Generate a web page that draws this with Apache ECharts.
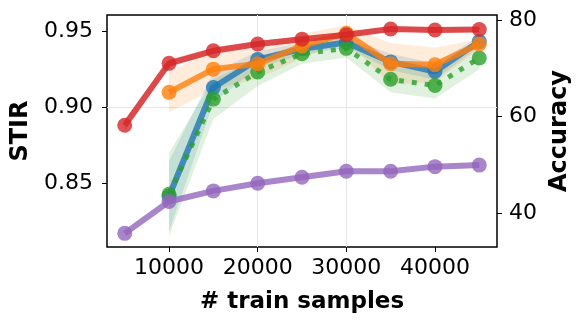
<!DOCTYPE html>
<html>
<head>
<meta charset="utf-8">
<script src="https://cdn.jsdelivr.net/npm/echarts@6/dist/echarts.min.js"></script>
<style>
    html, body { margin: 0; padding: 0; background: #fff; }
    #chart { width: 581px; height: 323px; }
</style>
</head>
<body>
<div id="chart"></div>
<script>
    // x positions
    const samples = [5000, 10000, 15000, 20000, 25000, 30000, 35000, 40000, 45000]
    const samplesFrom10k = [10000, 15000, 20000, 25000, 30000, 35000, 40000, 45000]

    // accuracy curves (right axis) and their spread
    const redAcc = [58.2, 71.0, 73.6, 75.0, 76.0, 76.9, 78.1, 77.9, 78.0]
    const redStd = [1.2, 0.8, 0.6, 0.6, 0.6, 0.6, 0.5, 0.5, 0.5]
    const orangeAcc = [65.0, 69.8, 70.9, 74.6, 77.2, 70.9, 70.7, 75.0]
    const orangeStd = [4.1, 4.2, 3.1, 2.5, 1.7, 4.3, 3.6, 1.0]
    const blueAcc = [43.5, 66.0, 71.8, 74.0, 75.3, 71.3, 69.3, 75.5]
    const blueStd = [7.3, 3.1, 1.7, 1.2, 1.0, 1.7, 1.7, 1.0]
    const greenAcc = [43.9, 63.6, 69.2, 73.0, 74.1, 67.7, 66.4, 72.1]
    const greenStd = [8.6, 4.1, 2.9, 2.1, 1.9, 2.7, 2.7, 2.3]

    // STIR curve (left axis)
    const purpleStir = [0.817, 0.838, 0.845, 0.850, 0.854, 0.858, 0.858, 0.861, 0.862]

    // tick labels
    const xTicks = [10000, 20000, 30000, 40000]
    const stirTicks = [0.85, 0.90, 0.95]
    const accTicks = [40, 60, 80]

    const pairs = (xs, ys) => xs.map((x, i) => [x, ys[i]])

    // shaded spread drawn as one polygon through the axis scales
    function band (name, xs, mean, std, color, opacity) {
        const items = xs.map((x, i) => [x, mean[i] - std[i], mean[i] + std[i]])
        return {
            name: name + '-band',
            type: 'custom',
            yAxisIndex: 1,
            encode: { x: 0, y: [1, 2] },
            data: items,
            silent: true,
            z: 1,
            renderItem (params, api) {
                if (params.dataIndex !== 0) return null
                const upper = items.map(d => api.coord([d[0], d[2]]))
                const lower = items.map(d => api.coord([d[0], d[1]])).reverse()
                return {
                    type: 'polygon',
                    shape: { points: upper.concat(lower) },
                    style: { fill: color, opacity: opacity }
                }
            }
        }
    }

    function curve (name, xs, ys, color, axis, z, dashed) {
        return {
            name: name,
            type: 'line',
            yAxisIndex: axis,
            data: pairs(xs, ys),
            symbol: 'circle',
            symbolSize: 15,
            itemStyle: { color: color, opacity: 0.8 },
            lineStyle: {
                color: color,
                width: dashed ? 5 : 6,
                opacity: 0.8,
                type: dashed ? [5, 8] : 'solid',
                cap: 'butt'
            },
            z: z
        }
    }

    const font = 'DejaVu Sans'
    const chart = echarts.init(document.getElementById('chart'))
    const option = {
        animation: false,
        grid: {
            left: 107,
            right: 84,
            top: 15,
            bottom: 76,
            outerBoundsMode: 'none',
            containLabel: false,
            show: true,
            borderColor: '#000',
            borderWidth: 1.5,
            backgroundColor: 'transparent'
        },
        xAxis: {
            type: 'value',
            min: 3000,
            max: 47000,
            minInterval: 10000,
            maxInterval: 10000,
            name: '# train samples',
            nameLocation: 'middle',
            nameGap: 44,
            nameTextStyle: { fontFamily: font, fontSize: 23, fontWeight: 'bold', color: '#000' },
            axisLine: { show: false },
            axisTick: { show: true, length: 5, customValues: xTicks, lineStyle: { color: '#000' } },
            axisLabel: {
                customValues: xTicks,
                margin: 10,
                fontFamily: font,
                fontSize: 22,
                color: '#000',
                formatter: v => String(v)
            },
            splitLine: { show: true, showMinLine: false, showMaxLine: false, lineStyle: { color: '#e6e6e6', width: 1 } }
        },
        yAxis: [
            {
                type: 'value',
                position: 'left',
                min: 0.808,
                max: 0.961,
                minInterval: 0.05,
                maxInterval: 0.05,
                name: 'STIR',
                nameLocation: 'middle',
                nameRotate: 90,
                nameGap: 71,
                nameTextStyle: { fontFamily: font, fontSize: 24, fontWeight: 'bold', color: '#000' },
                axisLine: { show: false },
                axisTick: { show: true, length: 5, customValues: stirTicks, lineStyle: { color: '#000' } },
                axisLabel: {
                    customValues: stirTicks,
                    margin: 14,
                    fontFamily: font,
                    fontSize: 22,
                    color: '#000',
                    formatter: v => v.toFixed(2)
                },
                splitLine: { show: true, showMinLine: false, showMaxLine: false, lineStyle: { color: '#e6e6e6', width: 1 } }
            },
            {
                type: 'value',
                position: 'right',
                min: 33,
                max: 81,
                minInterval: 20,
                maxInterval: 20,
                name: 'Accuracy',
                nameLocation: 'middle',
                nameRotate: 90,
                nameGap: 47,
                nameTextStyle: { fontFamily: font, fontSize: 24, fontWeight: 'bold', color: '#000' },
                axisLine: { show: false },
                axisTick: { show: true, length: 5, customValues: accTicks, lineStyle: { color: '#000' } },
                axisLabel: {
                    customValues: accTicks,
                    margin: 12,
                    fontFamily: font,
                    fontSize: 22,
                    color: '#000'
                },
                splitLine: { show: false }
            }
        ],
        series: [
            band('red', samples, redAcc, redStd, '#d62728', 0.2),
            band('orange', samplesFrom10k, orangeAcc, orangeStd, '#ff7f0e', 0.15),
            band('blue', samplesFrom10k, blueAcc, blueStd, '#1f77b4', 0.15),
            band('green', samplesFrom10k, greenAcc, greenStd, '#2ca02c', 0.15),
            curve('blue', samplesFrom10k, blueAcc, '#1f77b4', 1, 3, false),
            curve('green', samplesFrom10k, greenAcc, '#2ca02c', 1, 4, true),
            curve('orange', samplesFrom10k, orangeAcc, '#ff7f0e', 1, 5, false),
            curve('red', samples, redAcc, '#d62728', 1, 6, false),
            curve('purple', samples, purpleStir, '#9467bd', 0, 7, false)
        ]
    }
    chart.setOption(option)
</script>
</body>
</html>
